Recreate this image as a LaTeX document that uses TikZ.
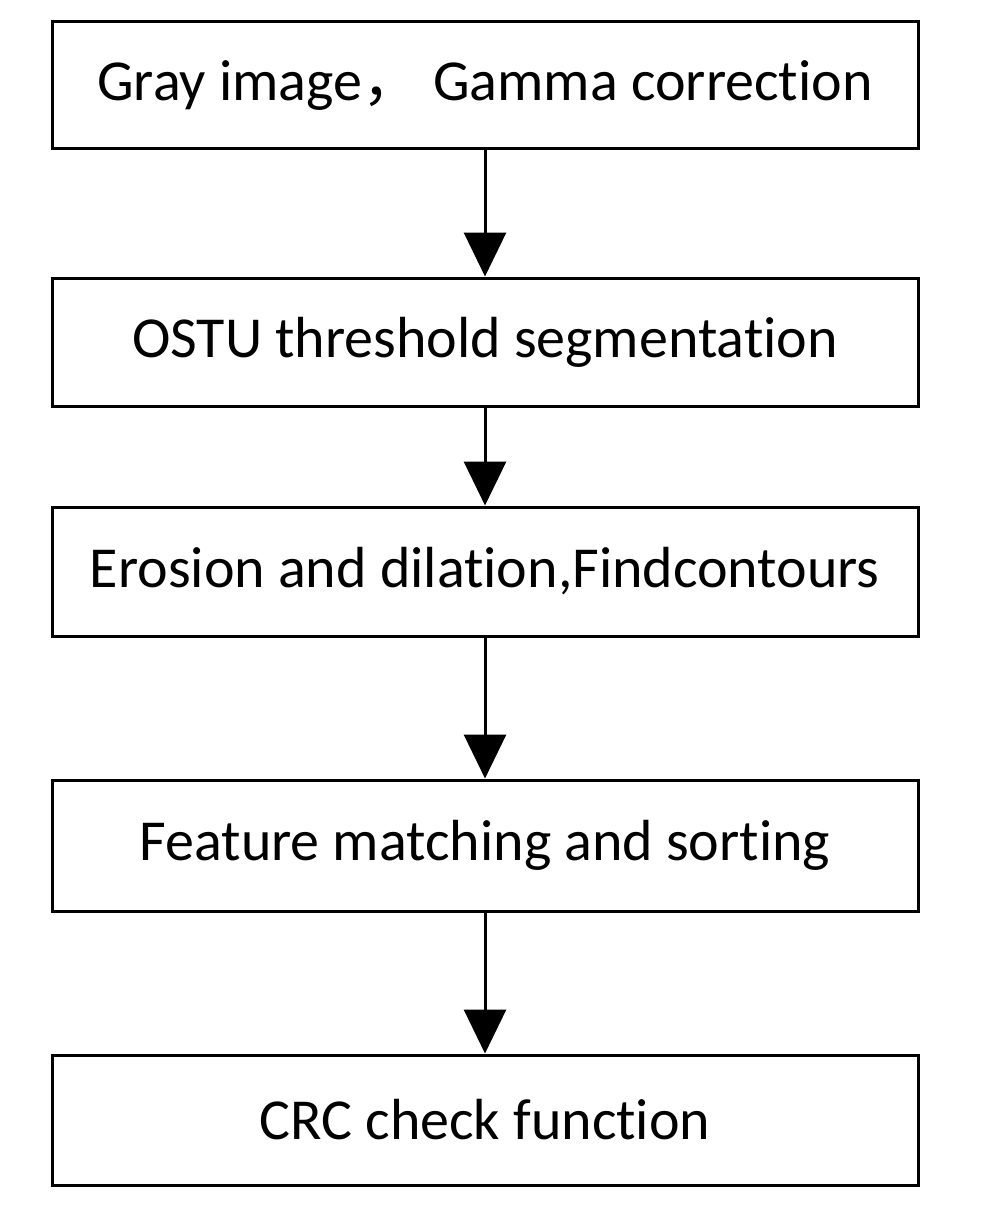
\documentclass[tikz,border=0pt]{standalone}
\usepackage{fontspec}
\setmainfont[Ligatures=NoCommon]{Carlito}
\newfontfamily\cjk{Noto Sans CJK SC}
\usetikzlibrary{arrows.meta}
\begin{document}
\begin{tikzpicture}[x=1pt,y=1pt,
  stepbox/.style={draw=black, line width=3pt, fill=white, minimum width=866pt, inner sep=0pt, font=\fontsize{58}{64}\selectfont},
  arr/.style={line width=3pt, -{Triangle[length=44pt,width=42pt]}}]
\useasboundingbox (0,0) rectangle (989,-1225);
\node[stepbox, minimum height=127pt] (b1) at (485,-85.5) {Gray image{\cjk ，}\ Gamma correction};
\node[stepbox, minimum height=128pt] (b2) at (485,-342) {OSTU threshold segmentation};
\node[stepbox, minimum height=129pt] (b3) at (485,-571.5) {Erosion and dilation,Findcontours};
\node[stepbox, minimum height=131pt] (b4) at (485,-845.5) {Feature matching and sorting};
\node[stepbox, minimum height=130pt] (b5) at (485,-1120) {CRC check function};
\draw[arr] (b1.south) -- (b2.north);
\draw[arr] (b2.south) -- (b3.north);
\draw[arr] (b3.south) -- (b4.north);
\draw[arr] (b4.south) -- (b5.north);
\end{tikzpicture}
\end{document}
